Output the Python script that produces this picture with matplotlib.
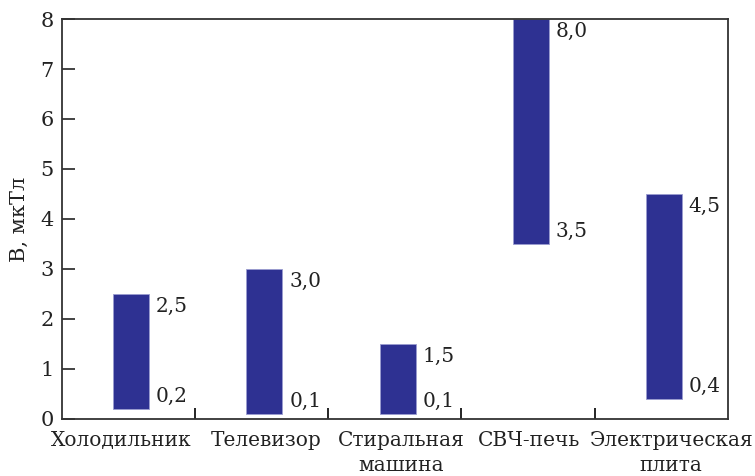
import matplotlib.pyplot as plt
from matplotlib.transforms import ScaledTranslation

# Magnetic induction ranges for household appliances
appliances = ['Холодильник', 'Телевизор', 'Стиральная\nмашина', 'СВЧ-печь', 'Электрическая\nплита']
b_min = [0.2, 0.1, 0.1, 3.5, 0.4]
b_max = [2.5, 3.0, 1.5, 8.0, 4.5]
low_labels = ['0,2', '0,1', '0,1', '3,5', '0,4']
high_labels = ['2,5', '3,0', '1,5', '8,0', '4,5']

plt.rcParams['font.family'] = ['DejaVu Serif']
bar_color = '#2e3192'

fig, ax = plt.subplots(figsize=(7.55, 4.76), dpi=100)
fig.subplots_adjust(left=0.082, right=0.964, top=0.96, bottom=0.12)

x = [i + 0.02 for i in range(len(appliances))]
heights = [hi - lo for lo, hi in zip(b_min, b_max)]
ax.bar(x, heights, bottom=b_min, width=0.27, color=bar_color,
       edgecolor='#9a9cd0', linewidth=0.6)

for xi, lo, hi, tl, bl in zip(x, b_min, b_max, high_labels, low_labels):
    ax.annotate(tl, (xi + 0.135, hi), xytext=(5, -2), textcoords='offset points',
                ha='left', va='top', fontsize=14.5, color='#222222')
    ax.annotate(bl, (xi + 0.135, lo), xytext=(5, 2), textcoords='offset points',
                ha='left', va='bottom', fontsize=14.5, color='#222222')

ax.set_xlim(-0.5, 4.5)
ax.set_ylim(0, 8)
ax.set_yticks(range(0, 9))
ax.tick_params(axis='y', direction='in', length=9, width=1.2, labelsize=15,
               colors='#222222', pad=6)

# category separators as minor ticks, names as major labels
ax.set_xticks(range(len(appliances)))
ax.set_xticklabels(appliances, fontsize=14.5, linespacing=1.4, color='#222222')
ax.tick_params(axis='x', which='major', length=0, pad=9)
ax.set_xticks([0.5, 1.5, 2.5, 3.5], minor=True)
ax.tick_params(axis='x', which='minor', direction='in', length=8, width=1.2)

# nudge the names apart so neighbours don't run together
nudges = [-7, 4, 6, 1, 10]
for lbl, dx in zip(ax.get_xticklabels(), nudges):
    lbl.set_transform(lbl.get_transform() + ScaledTranslation(dx / 100, 0, fig.dpi_scale_trans))

for s in ax.spines.values():
    s.set_color('#333333')
    s.set_linewidth(1.3)

ax.set_ylabel('B, мкТл', fontsize=15, color='#222222', labelpad=8)

fig.savefig('out.png', dpi=100)
